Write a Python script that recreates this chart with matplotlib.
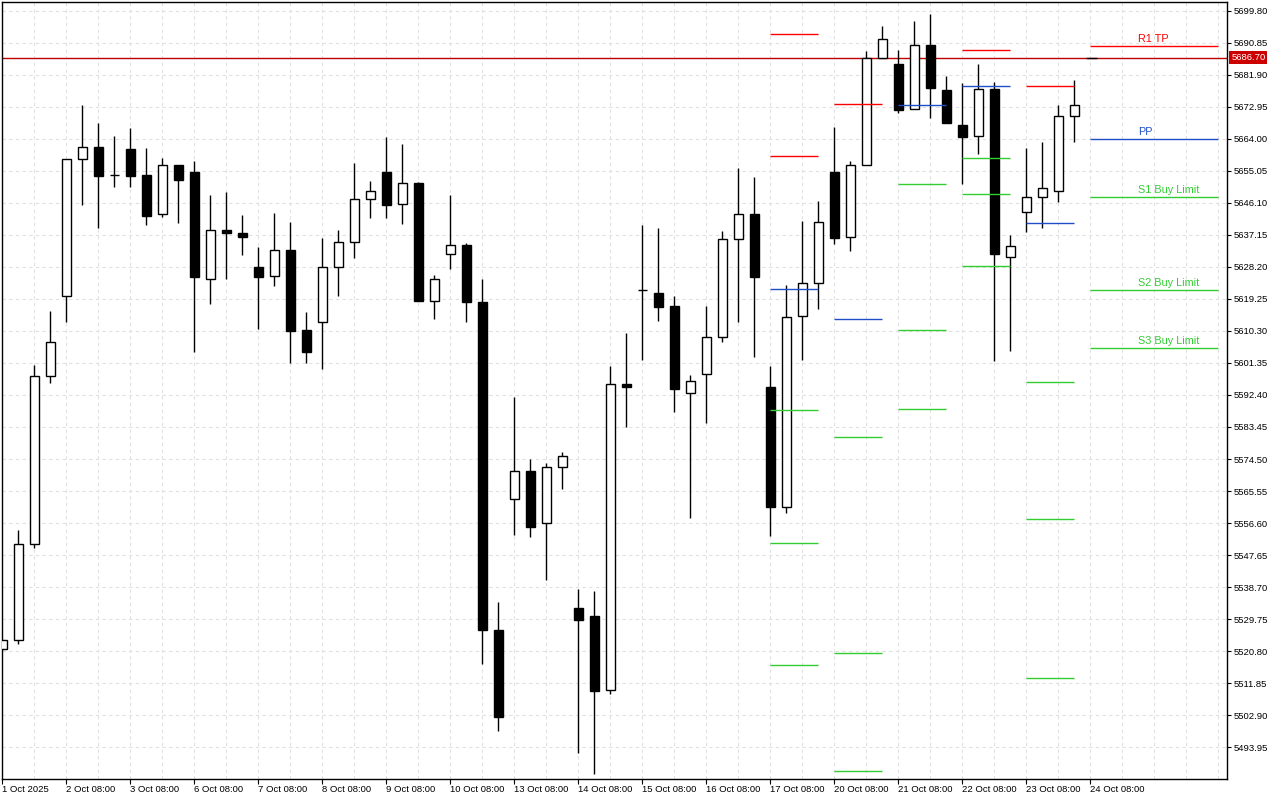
import numpy as np
import matplotlib
matplotlib.use("Agg")
import matplotlib.pyplot as plt
from matplotlib.ticker import FixedLocator, MultipleLocator
from matplotlib.transforms import blended_transform_factory

# H4 candles, 1 Oct - 23 Oct 2025
opens = [5521.3, 5523.9, 5550.7, 5597.8, 5620.0, 5658.3, 5661.7, 5653.9, 5661.1, 5653.9,
         5642.9, 5656.6, 5654.6, 5624.7, 5638.5, 5637.7, 5628.2, 5625.6, 5632.8, 5610.5,
         5612.7, 5628.1, 5635.1, 5647.1, 5654.6, 5645.7, 5651.6, 5618.8, 5631.7, 5634.2,
         5618.5, 5526.7, 5563.2, 5571.2, 5556.7, 5572.2, 5532.9, 5530.6, 5509.9, 5595.5,
         5621.7, 5620.8, 5617.3, 5592.9, 5598.2, 5608.5, 5635.9, 5642.9, 5594.6, 5561.2,
         5614.4, 5623.6, 5654.6, 5636.5, 5656.6, 5686.5, 5684.9, 5672.2, 5690.1, 5677.6,
         5667.9, 5664.7, 5677.9, 5630.9, 5643.5, 5647.7, 5649.3, 5670.3]
highs = [5524.3, 5554.7, 5600.8, 5615.9, 5658.3, 5673.4, 5668.4, 5664.8, 5667.0, 5661.4,
         5658.6, 5656.6, 5657.8, 5648.3, 5649.1, 5642.7, 5633.8, 5643.3, 5640.7, 5615.6,
         5636.3, 5638.5, 5657.2, 5652.2, 5664.5, 5662.5, 5651.9, 5625.9, 5648.3, 5634.8,
         5624.7, 5534.5, 5591.8, 5574.5, 5573.4, 5576.5, 5538.2, 5537.6, 5600.5, 5609.8,
         5639.9, 5639.1, 5620.1, 5598.0, 5617.3, 5638.2, 5655.8, 5653.3, 5600.5, 5623.1,
         5641.0, 5646.6, 5667.3, 5657.7, 5688.5, 5695.5, 5688.8, 5696.9, 5698.9, 5681.6,
         5679.7, 5684.9, 5679.9, 5637.0, 5661.5, 5663.1, 5673.4, 5680.4]
lows = [5521.0, 5522.7, 5549.7, 5595.8, 5612.9, 5645.6, 5639.2, 5650.6, 5650.6, 5640.0,
        5642.2, 5640.6, 5604.5, 5617.7, 5624.7, 5631.6, 5610.9, 5622.9, 5601.4, 5601.4,
        5599.7, 5620.2, 5630.8, 5642.0, 5642.0, 5640.3, 5618.7, 5613.7, 5627.7, 5612.9,
        5517.3, 5498.5, 5553.4, 5552.8, 5540.7, 5566.2, 5492.4, 5486.6, 5508.8, 5583.5,
        5602.3, 5613.2, 5587.7, 5558.1, 5584.7, 5607.3, 5612.9, 5603.1, 5553.0, 5559.5,
        5602.3, 5616.5, 5634.7, 5632.7, 5656.6, 5686.5, 5671.3, 5672.2, 5669.9, 5668.5,
        5651.5, 5659.8, 5602.0, 5604.8, 5638.0, 5639.2, 5646.3, 5663.2]
closes = [5523.9, 5550.7, 5597.8, 5607.1, 5658.3, 5661.6, 5653.7, 5653.8, 5653.7, 5642.5,
          5656.6, 5652.6, 5625.3, 5638.4, 5637.6, 5636.6, 5625.5, 5632.8, 5610.4, 5604.5,
          5628.2, 5635.1, 5647.1, 5649.3, 5645.6, 5651.6, 5618.8, 5624.7, 5634.2, 5618.5,
          5526.6, 5502.5, 5571.1, 5555.6, 5572.2, 5575.3, 5529.6, 5509.8, 5595.5, 5594.7,
          5621.6, 5617.1, 5594.0, 5596.2, 5608.5, 5635.9, 5642.9, 5625.3, 5561.2, 5614.1,
          5623.6, 5640.7, 5636.4, 5656.6, 5686.5, 5691.8, 5672.1, 5690.1, 5678.2, 5668.5,
          5664.6, 5677.9, 5631.9, 5634.1, 5647.7, 5650.2, 5670.3, 5673.4]

xtick_labels = ["1 Oct 2025", "2 Oct 08:00", "3 Oct 08:00", "6 Oct 08:00", "7 Oct 08:00",
                "8 Oct 08:00", "9 Oct 08:00", "10 Oct 08:00", "13 Oct 08:00", "14 Oct 08:00",
                "15 Oct 08:00", "16 Oct 08:00", "17 Oct 08:00", "20 Oct 08:00", "21 Oct 08:00",
                "22 Oct 08:00", "23 Oct 08:00", "24 Oct 08:00"]

# daily pivot segments (bar index where segment starts, price)
red_start = [48, 48, 52, 60, 64]
red_price = [5693.2, 5659.2, 5673.6, 5688.7, 5678.7]
blue_start = [48, 52, 56, 60, 64]
blue_price = [5621.9, 5613.6, 5673.4, 5678.7, 5640.4]
green_start = [48, 48, 48, 52, 52, 52, 56, 56, 56, 60, 60, 60, 64, 64, 64]
green_price = [5588.1, 5550.9, 5516.9, 5580.6, 5520.2, 5487.3, 5651.3, 5610.5, 5588.4,
               5658.6, 5648.5, 5628.4, 5595.9, 5557.7, 5513.3]

# projected levels for 24 Oct
level_names = ["R1 TP", "PP", "S1 Buy Limit", "S2 Buy Limit", "S3 Buy Limit"]
level_prices = [5689.85, 5663.86, 5647.65, 5621.65, 5605.45]
level_colors = ["#ff0000", "#1f4fc8", "#32cd32", "#32cd32", "#32cd32"]

last_price = 5686.70

plt.rcParams["font.family"] = ["Liberation Sans", "DejaVu Sans"]

fig = plt.figure(figsize=(12.8, 8), dpi=100)
ax = fig.add_axes([2 / 1280, 21 / 800, 1225 / 1280, 777 / 800])

o = np.array(opens)
h = np.array(highs)
l = np.array(lows)
c = np.array(closes)
x = np.arange(len(o))
up = c >= o

ax.vlines(x, l, h, color="black", lw=1.0, zorder=3)
ax.bar(x, np.abs(c - o), bottom=np.minimum(o, c), width=0.6,
       color=np.where(up, "white", "black"), edgecolor="black", linewidth=1.0, zorder=4)

seg = 2.96
ax.hlines(red_price, red_start, np.array(red_start) + seg, colors="#ff0000", lw=1.0, zorder=5)
ax.hlines(blue_price, blue_start, np.array(blue_start) + seg, colors="#1f4fc8", lw=1.0, zorder=5)
ax.hlines(green_price, green_start, np.array(green_start) + seg, colors="#32cd32", lw=1.0, zorder=5)

for name, p, col in zip(level_names, level_prices, level_colors):
    ax.hlines(p, 68, 76, colors=col, lw=1.0, zorder=5)
    ax.annotate(name, (71, p), xytext=(0, 2), textcoords="offset points",
                color=col, fontsize=7.8, ha="left", va="bottom")

# last price line + label
ax.axhline(last_price, color="#c00000", lw=1.0, zorder=2)
ax.hlines(last_price, 67.7, 68.4, colors="black", lw=1.0, zorder=6)
trans = blended_transform_factory(ax.transAxes, ax.transData)
ax.text(1.0035, last_price, f"{last_price:.2f}", transform=trans, color="white",
        fontsize=6.8, ha="left", va="center", clip_on=False,
        bbox=dict(boxstyle="square,pad=0.2", fc="#cc0000", ec="none"))

ax.set_xlim(-0.02, 76.54)
ax.set_ylim(5485.07, 5702.23)

ax.yaxis.tick_right()
yt = np.round(np.arange(5493.95, 5700.5, 8.95), 2)
ax.set_yticks(yt)
ax.set_yticklabels([f"{v:.2f}" for v in yt])
ax.xaxis.set_major_locator(FixedLocator(np.arange(0, 69, 4)))
ax.set_xticklabels(xtick_labels)
for lbl in ax.get_xticklabels():
    lbl.set_ha("left")
ax.xaxis.set_minor_locator(MultipleLocator(2))

ax.tick_params(axis="y", which="major", length=3, width=0.8, pad=1.5, labelsize=6.8, direction="out")
ax.tick_params(axis="x", which="major", length=3.6, width=0.8, pad=0.8, labelsize=6.8, direction="out")
ax.tick_params(axis="x", which="minor", length=0)

ax.grid(True, which="both", color="#e0e0e0", lw=0.8, linestyle=(0, (3, 3)), zorder=0)
ax.set_axisbelow(True)
for s in ax.spines.values():
    s.set_linewidth(1.0)
    s.set_color("black")

fig.savefig("out.png", dpi=100, facecolor="white")
